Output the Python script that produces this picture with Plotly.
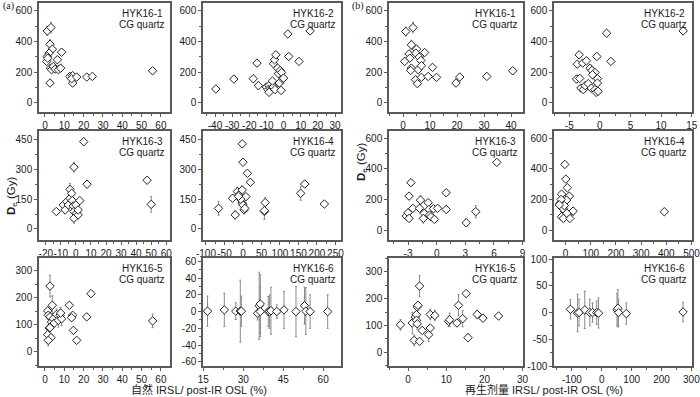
import plotly.graph_objects as go

# ---------------- data ----------------
sample_names = ["HYK16-1", "HYK16-2", "HYK16-3", "HYK16-4", "HYK16-5", "HYK16-6"]
mineral_label = "CG quartz"

# (a) natural IRSL / post-IR OSL (%)
nat1_x = [1.2, 3.1, 2.6, 3.8, 2.1, 1.2, 0.9, 1.4, 2.9, 3.4, 4.3, 5.2, 6.9, 6.4, 8.6, 8.1, 2.6, 12.9, 14.3, 14.3, 13.8, 16.4, 21.6, 24.5, 55.7]
nat1_y = [470, 492, 383, 351, 325, 303, 271, 292, 227, 217, 238, 221, 217, 282, 331, 227, 130, 173, 178, 130, 158, 169, 169, 173, 210]
nat1_e = [30, 35, 30, 20, 20, 15, 15, 15, 15, 12, 12, 12, 12, 20, 20, 12, 10, 10, 12, 10, 10, 8, 10, 8, 10]

nat2_x = [-39.5, -29, -15.5, -17.7, -14.7, -10, -8.5, -9, -7.5, -8.5, -6, -6.5, -5, -5.9, -5.3, -4.5, -3.5, -3, -2, -1.2, -2.5, -0.5, -1.5, 0, 2.5, 3, 9, 15.5]
nat2_y = [91, 156, 260, 158, 113, 104, 113, 87, 91, 69, 104, 143, 87, 256, 282, 314, 227, 191, 212, 199, 130, 156, 82, 162, 450, 303, 271, 470]
nat2_e = [10, 12, 15, 20, 25, 10, 20, 8, 8, 8, 10, 15, 10, 15, 15, 20, 12, 12, 12, 10, 15, 10, 12, 10, 15, 12, 10, 12]

nat3_x = [-13, -8.3, -7.2, -6.1, -5, -3.9, -3.9, -2.8, -2.4, -1.7, -1.3, -1.3, -1.3, 0, 0.4, 1.5, 1.5, 2.6, 5.2, 7.4, 47.3, 50]
nat3_y = [88, 121, 96, 138, 121, 155, 200, 180, 143, 116, 312, 88, 54, 121, 79, 71, 96, 143, 441, 226, 246, 124]
nat3_e = [10, 12, 15, 12, 15, 15, 30, 12, 15, 12, 25, 15, 25, 15, 15, 20, 15, 12, 10, 15, 12, 40]

nat4_x = [-66, -28, -21, -15, -11, -2, -2, 0, -2, 0, 3, 5, 8, 12, 20, 60, 58, 58, 156, 167, 220, -6, -12]
nat4_y = [104, 155, 71, 189, 172, 197, 430, 337, 130, 121, 96, 104, 163, 281, 236, 133, 88, 93, 180, 227, 126, 150, 165]
nat4_e = [35, 12, 20, 20, 15, 20, 12, 15, 12, 10, 15, 15, 12, 12, 12, 25, 40, 15, 35, 12, 10, 12, 12]

nat5_x = [2.6, 3.8, 1.4, 1.7, 2.6, 3.4, 2.2, 2.6, 1.4, 3.1, 1.7, 4.3, 4.8, 6, 6.9, 7.8, 8.6, 8.1, 12.6, 14.3, 13.8, 14.7, 16.4, 21.6, 23.8, 55.7]
nat5_y = [244, 173, 152, 136, 130, 111, 89, 90, 64, 53, 43, 123, 107, 139, 117, 136, 123, 144, 173, 136, 127, 80, 43, 130, 216, 115]
nat5_e = [40, 35, 15, 15, 20, 20, 15, 10, 15, 10, 20, 20, 15, 20, 25, 20, 25, 20, 12, 10, 10, 10, 8, 10, 8, 25]

nat6_x = [16.6, 22.9, 27.2, 28.9, 29.3, 35.4, 36, 36.4, 36.4, 39.4, 39.9, 40.4, 42.6, 45.3, 49.8, 53, 53.5, 55.1, 61.7]
nat6_y = [0.5, 2, 0.5, 0.5, 0.5, -2, 7, 9, 0, 0, 0, 1, 0, 2, 0, 7, 0.5, 0, 0]
nat6_e = [18, 20, 10, 37, 18, 8, 40, 35, 30, 18, 20, 28, 8, 22, 30, 22, 28, 20, 20]

# (b) regenerated-dose IRSL / post-IR OSL (%)
reg1_x = [1, 3.7, 3.1, 2.2, 2.5, 0.6, 3.1, 2.8, 5, 4.7, 6, 6.6, 8, 5.6, 6.8, 4.6, 5.3, 6.8, 9.3, 10.9, 12.4, 19.6, 21, 31, 40.6]
reg1_y = [466, 492, 379, 320, 292, 271, 227, 212, 351, 325, 299, 277, 329, 217, 243, 152, 126, 167, 173, 232, 167, 130, 169, 173, 210]
reg1_e = [30, 35, 30, 20, 15, 15, 15, 12, 20, 20, 15, 15, 20, 12, 12, 10, 10, 10, 10, 10, 10, 10, 10, 10, 10]

reg2_x = [-3.4, -3.7, -2.8, -2.2, -0.5, -3.8, -3.3, -3.1, -2.7, -2.4, -1.9, -1.6, -1.3, -0.8, -1.2, -0.4, -0.4, -1.4, -0.8, -0.6, -0.3, 1.1, 1.8, 13.6]
reg2_y = [314, 253, 260, 275, 303, 156, 160, 97, 87, 113, 126, 227, 212, 199, 184, 158, 130, 97, 87, 69, 76, 455, 271, 470]
reg2_e = [20, 12, 12, 12, 12, 25, 20, 12, 10, 12, 10, 12, 12, 10, 10, 10, 12, 10, 10, 8, 8, 10, 10, 10]

reg3_x = [-2.7, -2.9, -3.2, -3, -2.9, -2.5, -1.8, -1.7, -1.3, -1.4, -0.9, -0.8, -0.75, -0.6, -0.24, -0.34, 0.1, 1, 1, 3.1, 4.1, 6.3]
reg3_y = [310, 222, 92, 113, 76, 142, 142, 196, 109, 76, 179, 135, 98, 87, 70, 140, 142, 135, 244, 48, 120, 443]
reg3_e = [20, 20, 20, 20, 20, 12, 12, 30, 15, 30, 15, 15, 15, 15, 12, 20, 15, 12, 15, 25, 40, 12]

reg4_x = [-3, 1, 7, -16, 15, -12, -22, -9, -3, 4, -16, -9, 11, 17, 30, 392, -10, -5, 5, -18, -25]
reg4_y = [429, 333, 277, 235, 222, 185, 174, 152, 120, 196, 87, 76, 98, 76, 124, 120, 140, 160, 110, 200, 165]
reg4_e = [15, 15, 12, 12, 12, 12, 12, 15, 12, 12, 15, 20, 10, 12, 25, 12, 12, 12, 12, 12, 12]

reg5_x = [-2, 1.1, 1.6, 1.9, 2.2, 2.4, 2.6, 2.2, 2.4, 3, 3, 3.7, 5.4, 5.8, 5.8, 7, 10.6, 10.9, 12.8, 13.2, 14.3, 15.2, 15.7, 18.1, 19.6, 23.7]
reg5_y = [102, 109, 44, 131, 140, 169, 175, 119, 106, 247, 40, 81, 65, 90, 141, 137, 115, 121, 109, 175, 125, 219, 54, 141, 127, 135]
reg5_e = [20, 40, 20, 15, 20, 15, 10, 20, 20, 40, 8, 10, 25, 10, 20, 20, 20, 25, 10, 40, 30, 10, 15, 15, 12, 10]

reg6_x = [-105, -81, -76, -57, -40, -31, -17, -11, 51, 54, 56, 82, 272]
reg6_y = [6, -1, 0, 5, 0, 0, 0, -1, 5, 8, 0, -2, 1]
reg6_e = [18, 35, 25, 35, 25, 18, 22, 28, 30, 35, 25, 20, 18]

# tick values per panel
nat_xticks = [[0, 10, 20, 30, 40, 50, 60], [-40, -30, -20, -10, 0, 10, 20, 30],
              [-20, -10, 0, 10, 20, 30, 40, 50, 60], [-100, -50, 0, 50, 100, 150, 200, 250],
              [0, 10, 20, 30, 40, 50, 60], [15, 30, 45, 60]]
nat_yticks = [[0, 200, 400, 600], [0, 200, 400, 600], [0, 150, 300, 450], [0, 150, 300, 450],
              [0, 100, 200, 300], [-60, -40, -20, 0, 20, 40, 60]]
reg_xticks = [[0, 10, 20, 30, 40], [-5, 0, 5, 10, 15], [-3, 0, 3, 6, 9],
              [0, 100, 200, 300, 400, 500], [0, 10, 20, 30], [-100, 0, 100, 200, 300]]
reg_yticks = [[0, 200, 400, 600], [0, 200, 400, 600], [0, 200, 400, 600], [0, 200, 400, 600],
              [0, 100, 200, 300], [-100, -50, 0, 50, 100]]

x_title_a = "自然 IRSL/ post-IR OSL (%)"
x_title_b = "再生剂量 IRSL/ post-IR OSL (%)"

# ---------------- layout geometry (pixels) ----------------
W, H = 700, 397
col_px = [(39, 170), (203, 341), (389, 523), (554, 692)]
row_px = [(3, 112), (131, 240), (258, 366)]

# axis ranges (layout)
nat_xr = [[-3.1, 64.7], [-47, 33.5], [-24.5, 62.5], [-108, 265], [-3.1, 64.7], [14.9, 66.7]]
nat_yr = [[-59, 652], [-59, 652], [-56, 495], [-56, 495], [-52, 348], [-65, 64]]
reg_xr = [[-5.2, 44.4], [-7.5, 15.05], [-5, 9.05], [-46, 502], [-5, 30.1], [-160, 302]]
reg_yr = [[-59, 652], [-59, 652], [-65, 648], [-65, 648], [-52, 352], [-100, 102]]
minor_x = [5, 5, 5, 25, 5, 7.5, 5, 2.5, 1.5, 50, 5, 50]
minor_y = [100, 100, 75, 75, 50, 10, 100, 100, 100, 100, 50, 25]

panels = [
    (nat1_x, nat1_y, nat1_e), (nat2_x, nat2_y, nat2_e), (nat3_x, nat3_y, nat3_e),
    (nat4_x, nat4_y, nat4_e), (nat5_x, nat5_y, nat5_e), (nat6_x, nat6_y, nat6_e),
    (reg1_x, reg1_y, reg1_e), (reg2_x, reg2_y, reg2_e), (reg3_x, reg3_y, reg3_e),
    (reg4_x, reg4_y, reg4_e), (reg5_x, reg5_y, reg5_e), (reg6_x, reg6_y, reg6_e),
]
xticks_all = nat_xticks + reg_xticks
yticks_all = nat_yticks + reg_yticks
xr_all = nat_xr + reg_xr
yr_all = nat_yr + reg_yr

FRAME = "#5a5a5a"
TICKFONT = dict(family="Liberation Sans, Arial, sans-serif", size=10, color="#1a1a1a")

fig = go.Figure()
layout = dict(width=W, height=H, margin=dict(l=0, r=0, t=0, b=0),
              paper_bgcolor="white", plot_bgcolor="white", showlegend=False)
annotations = []


def fmt(v):
    return "%g" % v


for i, (px, py, pe) in enumerate(panels):
    panel = i // 6          # 0 = (a), 1 = (b)
    k = i % 6
    r, c = k // 2, k % 2
    cx0, cx1 = col_px[panel * 2 + c]
    ry0, ry1 = row_px[r]
    n = i + 1
    xa = "xaxis" if n == 1 else f"xaxis{n}"
    ya = "yaxis" if n == 1 else f"yaxis{n}"
    xref = "x" if n == 1 else f"x{n}"
    yref = "y" if n == 1 else f"y{n}"
    common = dict(showline=True, linecolor=FRAME, linewidth=1.5, mirror=True,
                  ticks="outside", ticklen=3, tickwidth=1, tickcolor=FRAME, tickangle=0,
                  showgrid=False, zeroline=False, tickfont=TICKFONT, tickmode="array",
                  automargin=False, ticklabeloverflow="allow")
    layout[xa] = dict(common, domain=[cx0 / W, cx1 / W], anchor=yref, range=xr_all[i],
                      tickvals=xticks_all[i], ticktext=[fmt(v) for v in xticks_all[i]],
                      minor=dict(ticks="outside", ticklen=2, tickcolor=FRAME, tickmode="linear",
                                 tick0=xticks_all[i][0], dtick=minor_x[i]))
    layout[ya] = dict(common, domain=[1 - ry1 / H, 1 - ry0 / H], anchor=xref, range=yr_all[i],
                      tickvals=yticks_all[i], ticktext=[fmt(v) for v in yticks_all[i]],
                      minor=dict(ticks="outside", ticklen=2, tickcolor=FRAME, tickmode="linear",
                                 tick0=yticks_all[i][0], dtick=minor_y[i]))
    fig.add_trace(go.Scatter(
        x=px, y=py, xaxis=xref, yaxis=yref, mode="markers",
        error_y=dict(type="data", array=pe, visible=True, color="#8a8a8a", thickness=1, width=1),
        marker=dict(symbol="diamond", size=6.5, color="white", line=dict(color="#222", width=1)),
        hoverinfo="skip"))
    # sample label
    xc = (cx1 - 28) / W
    annotations.append(dict(x=xc, y=1 - (ry0 + 10) / H, xref="paper", yref="paper",
                            text=sample_names[k], showarrow=False, xanchor="center", yanchor="middle",
                            font=dict(family="Liberation Sans, Arial, sans-serif", size=10, color="#1a1a1a")))
    annotations.append(dict(x=xc, y=1 - (ry0 + 21.5) / H, xref="paper", yref="paper",
                            text=mineral_label, showarrow=False, xanchor="center", yanchor="middle",
                            font=dict(family="Liberation Sans, Arial, sans-serif", size=10, color="#1a1a1a")))

# panel labels
for lab, xp in (("(a)", 8), ("(b)", 358)):
    annotations.append(dict(x=xp / W, y=1 - 6 / H, xref="paper", yref="paper", text=lab,
                            showarrow=False, xanchor="center", yanchor="middle",
                            font=dict(family="Liberation Serif, Times New Roman, serif", size=10, color="#1a1a1a")))

# y titles
for xp, yp in ((12, 196), (362, 162)):
    annotations.append(dict(x=xp / W, y=1 - yp / H, xref="paper", yref="paper",
                            text="<b>D</b><sub>e</sub> (Gy)", textangle=-90, showarrow=False,
                            xanchor="center", yanchor="middle",
                            font=dict(family="Liberation Sans, Arial, sans-serif", size=11.5, color="#1a1a1a")))

# x titles
annotations.append(dict(x=199 / W, y=1 - 389 / H, xref="paper", yref="paper", text=x_title_a,
                        showarrow=False, xanchor="center", yanchor="middle",
                        font=dict(family="Liberation Sans, Noto Sans CJK SC, sans-serif", size=11, color="#1a1a1a")))
annotations.append(dict(x=544 / W, y=1 - 389 / H, xref="paper", yref="paper", text=x_title_b,
                        showarrow=False, xanchor="center", yanchor="middle",
                        font=dict(family="Liberation Sans, Noto Sans CJK SC, sans-serif", size=11, color="#1a1a1a")))

layout["annotations"] = annotations
fig.update_layout(**layout)
fig.write_html("out.html", config={"responsive": False, "displayModeBar": False},
               post_script="document.body.style.margin='0';document.body.style.padding='0';"
                           "document.body.style.overflow='hidden';")
